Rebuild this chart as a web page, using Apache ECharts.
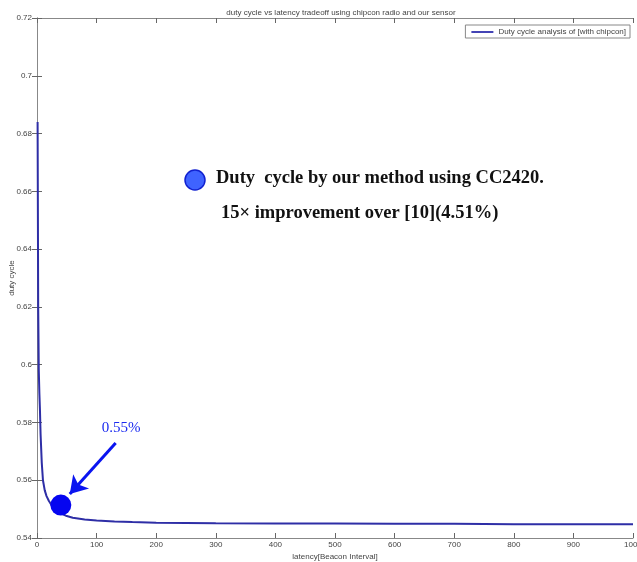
<!DOCTYPE html>
<html><head><meta charset="utf-8">
<script src="https://cdn.jsdelivr.net/npm/echarts@6/dist/echarts.min.js"></script>
<style>html,body{margin:0;padding:0;background:#fff}#c{width:637px;height:562px}</style>
</head><body><div id="c"></div>
<script>
const latency = [1,2,3,4,5,6,8,10,13,16,20,25,30,40,50,60,80,100,130,160,200,250,300,400,500,600,700,800,900,1000];
const dutyCycle = [0.684,0.620,0.598,0.590,0.584,0.576,0.566,0.560,0.5565,0.5545,0.5528,0.5512,0.5500,0.5485,0.5476,0.5470,0.5464,0.5461,0.5457,0.5455,0.5453,0.5452,0.5451,0.5450,0.5450,0.5449,0.5449,0.5448,0.5448,0.5448];
const xTicks = [0,100,200,300,400,500,600,700,800,900,1000];
const yTicks = [0.54,0.56,0.58,0.6,0.62,0.64,0.66,0.68,0.7,0.72];
const highlightPoint = [40, 0.5514];
const arrowFrom = [132, 0.5729];
const arrowTo = [55, 0.5552];
const arrowLabelPos = [141, 0.5781];

const narrow = '"Liberation Sans Narrow", "Liberation Sans", Arial, sans-serif';
const serif = '"Liberation Serif", "DejaVu Serif", serif';
const axisCommon = {
  axisLine: {show: true, lineStyle: {color: '#888', width: 1}},
  axisTick: {show: true, inside: true, length: 5, lineStyle: {color: '#666'}},
  splitLine: {show: false}
};
const chart = echarts.init(document.getElementById('c'));
chart.setOption({
  animation: false,
  backgroundColor: '#fff',
  title: {text: 'duty cycle vs latency tradeoff using chipcon radio and our sensor', left: 336, textAlign: 'center', top: 4,
    textStyle: {fontFamily: narrow, fontSize: 8, fontWeight: 'normal', color: '#444'}},
  grid: {left: 37, right: 4, top: 18, bottom: 24, containLabel: false, outerBoundsMode: 'none'},
  legend: {data: ['Duty cycle analysis of [with chipcon]'], right: 7, top: 25, orient: 'vertical',
    backgroundColor: '#fff', borderColor: '#888', borderWidth: 1, borderRadius: 0, padding: [3, 4, 2, 6],
    itemWidth: 22, itemHeight: 2, itemGap: 2,
    textStyle: {fontFamily: narrow, fontSize: 8, color: '#444'}, icon: 'rect'},
  xAxis: [
    Object.assign({type: 'value', min: 0, max: 1000, interval: 100, name: 'latency[Beacon Interval]',
      nameLocation: 'middle', nameGap: 15, nameMoveOverlap: false,
      nameTextStyle: {fontFamily: narrow, fontSize: 8, color: '#444'},
      axisLabel: {fontFamily: narrow, fontSize: 8, color: '#444', margin: 3, formatter: v => xTicks.includes(v) ? String(v) : ''}}, axisCommon),
    Object.assign({type: 'value', min: 0, max: 1000, interval: 100, position: 'top', axisLabel: {show: false}}, axisCommon)
  ],
  yAxis: [
    Object.assign({type: 'value', min: 0.54, max: 0.72, interval: 0.02, name: 'duty cycle',
      nameLocation: 'middle', nameGap: 21, nameRotate: 90, nameMoveOverlap: false,
      nameTextStyle: {fontFamily: narrow, fontSize: 8, color: '#444'},
      axisLabel: {fontFamily: narrow, fontSize: 8, color: '#444', margin: 5,
        formatter: v => { const m = yTicks.find(t => Math.abs(t - v) < 1e-9); return m === undefined ? '' : String(m); }}}, axisCommon),
    Object.assign({type: 'value', min: 0.54, max: 0.72, interval: 0.02, position: 'right', axisLabel: {show: false}}, axisCommon)
  ],
  series: [
    {name: 'Duty cycle analysis of [with chipcon]', type: 'line', smooth: false, showSymbol: false,
      data: latency.map((x, i) => [x, dutyCycle[i]]),
      lineStyle: {color: '#2e2ea6', width: 2}, itemStyle: {color: '#4343b5'},
      markLine: {silent: true, symbol: ['none', 'arrow'], symbolSize: [16, 17],
        lineStyle: {color: '#0a14f0', width: 3, type: 'solid'}, label: {show: false},
        data: [[{coord: arrowFrom}, {coord: arrowTo}]]},
      markPoint: {silent: true, data: [
        {coord: highlightPoint, symbol: 'circle', symbolSize: 21, itemStyle: {color: '#0505f0'}, label: {show: false}},
        {coord: arrowLabelPos, symbol: 'circle', symbolSize: 0,
          label: {show: true, formatter: '0.55%', position: 'inside', fontFamily: serif, fontSize: 15, color: '#1a2af0'}}
      ]}
    }
  ],
  graphic: [
    {type: 'circle', shape: {cx: 195, cy: 180, r: 10}, style: {fill: '#3f63ff', stroke: '#1020d0', lineWidth: 1.5}},
    {type: 'text', left: 216, top: 169, style: {text: 'Duty  cycle by our method using CC2420.', font: 'bold 18.5px "Liberation Serif", serif', fill: '#111'}},
    {type: 'text', left: 221, top: 204, style: {text: '15× improvement over [10](4.51%)', font: 'bold 18.5px "Liberation Serif", serif', fill: '#111'}}
  ]
});
</script></body></html>
